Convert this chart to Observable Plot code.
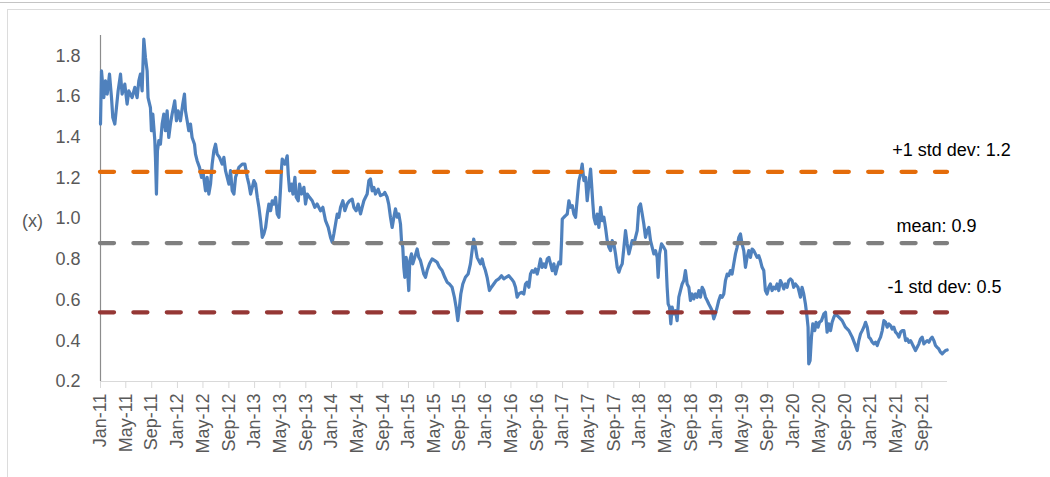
<!DOCTYPE html>
<html>
<head>
<meta charset="utf-8">
<script src="https://cdn.jsdelivr.net/npm/d3@7"></script>
<script src="https://cdn.jsdelivr.net/npm/@observablehq/plot@0.6"></script>
<style>
  html, body { margin: 0; padding: 0; background: #fff; }
  #wrap { position: relative; width: 1050px; height: 477px; overflow: hidden; background: #fff; }
  #wrap svg { position: absolute; left: 0; top: 0; }
  .line-top { position: absolute; left: 0; top: 2px; width: 1050px; border-top: 1px solid #c4c4c4; }
  .box { position: absolute; left: 7px; top: 9px; width: 1100px; height: 520px; border-left: 1px solid #dcdcdc; border-top: 1px solid #dcdcdc; }
</style>
</head>
<body>
<div id="wrap"></div>
<script>
// ---- data (decimal year, multiple) ----
const s2011_2012 = [
[2011.000,1.465],[2011.013,1.726],[2011.043,1.595],[2011.065,1.677],[2011.087,1.612],[2011.117,1.710],[2011.143,1.595],[2011.160,1.497],[2011.186,1.465],[2011.203,1.530],
[2011.229,1.628],[2011.260,1.710],[2011.281,1.612],[2011.316,1.661],[2011.346,1.563],[2011.368,1.628],[2011.411,1.595],[2011.446,1.645],[2011.476,1.595],[2011.498,1.677],
[2011.519,1.710],[2011.541,1.628],[2011.563,1.882],[2011.584,1.792],[2011.606,1.726],[2011.618,1.595],[2011.649,1.546],[2011.662,1.432],[2011.680,1.514],[2011.706,1.383],
[2011.714,1.301],[2011.727,1.121],[2011.740,1.334],[2011.758,1.383],[2011.779,1.366],[2011.801,1.465],[2011.823,1.514],[2011.844,1.432],[2011.866,1.530],[2011.887,1.399],
[2011.909,1.465],[2011.931,1.514],[2011.965,1.579],[2011.987,1.481],[2012.009,1.530],[2012.039,1.481],[2012.069,1.563],[2012.091,1.612],[2012.104,1.530],[2012.126,1.481],
[2012.147,1.432],[2012.169,1.465],[2012.190,1.399],[2012.221,1.366],[2012.234,1.317],[2012.255,1.285],[2012.286,1.252],[2012.312,1.203],[2012.329,1.236],[2012.364,1.137],
[2012.385,1.203],[2012.407,1.121],[2012.429,1.170],[2012.450,1.268],[2012.472,1.334],[2012.494,1.366],[2012.515,1.317],[2012.545,1.301],[2012.580,1.268],[2012.602,1.301],
[2012.623,1.236],[2012.645,1.203],[2012.667,1.170],[2012.688,1.236],[2012.710,1.137],[2012.732,1.121],[2012.753,1.203],[2012.796,1.252],[2012.840,1.268]
];
const s2013_2014 = [
[2012.874,1.268],[2012.905,1.203],[2012.926,1.170],[2012.948,1.121],[2012.970,1.154],[2012.991,1.187],[2013.013,1.170],[2013.035,1.105],[2013.056,1.056],[2013.078,0.990],
[2013.100,0.908],[2013.121,0.925],[2013.143,0.957],[2013.165,1.023],[2013.186,1.072],[2013.208,1.039],[2013.229,1.088],[2013.251,1.072],[2013.273,1.105],[2013.294,1.023],
[2013.316,1.007],[2013.338,1.154],[2013.351,1.252],[2013.359,1.293],[2013.394,1.268],[2013.424,1.309],[2013.437,1.219],[2013.455,1.137],[2013.481,1.170],[2013.498,1.121],
[2013.524,1.203],[2013.541,1.105],[2013.567,1.088],[2013.584,1.170],[2013.610,1.121],[2013.641,1.154],[2013.662,1.072],[2013.684,1.121],[2013.714,1.105],[2013.749,1.088],
[2013.783,1.056],[2013.813,1.072],[2013.857,1.039],[2013.887,1.056],[2013.922,0.990],[2013.957,0.957],[2013.987,0.908],[2014.009,0.884],[2014.030,0.925],[2014.052,0.974],
[2014.074,1.023],[2014.095,1.007],[2014.117,1.056],[2014.147,1.088],[2014.173,1.039],[2014.203,1.072],[2014.234,1.088],[2014.268,1.096],[2014.290,1.056],[2014.320,1.039],
[2014.346,1.072],[2014.377,1.023],[2014.398,1.056],[2014.420,1.088],[2014.442,1.105],[2014.463,1.121],[2014.485,1.187],[2014.506,1.195],[2014.528,1.137],[2014.550,1.154],
[2014.571,1.121],[2014.606,1.145],[2014.636,1.113],[2014.680,1.121]
];
const s2015_2016 = [
[2014.692,1.129],[2014.723,1.105],[2014.743,1.072],[2014.766,1.007],[2014.788,0.957],[2014.810,1.007],[2014.831,1.048],[2014.853,1.007],[2014.874,1.023],[2014.896,0.974],
[2014.909,0.892],[2014.926,0.859],[2014.939,0.761],[2014.952,0.712],[2014.970,0.810],[2014.987,0.745],[2015.004,0.647],[2015.017,0.794],[2015.039,0.827],[2015.056,0.778],
[2015.082,0.810],[2015.113,0.851],[2015.134,0.810],[2015.156,0.794],[2015.178,0.761],[2015.199,0.728],[2015.221,0.712],[2015.242,0.745],[2015.273,0.778],[2015.307,0.802],
[2015.342,0.794],[2015.372,0.786],[2015.403,0.761],[2015.437,0.745],[2015.472,0.712],[2015.502,0.688],[2015.532,0.679],[2015.567,0.663],[2015.597,0.614],[2015.619,0.565],
[2015.641,0.499],[2015.662,0.565],[2015.680,0.630],[2015.706,0.679],[2015.740,0.712],[2015.775,0.728],[2015.805,0.778],[2015.827,0.843],[2015.848,0.900],[2015.870,0.859],
[2015.892,0.810],[2015.913,0.794],[2015.935,0.778],[2015.957,0.802],[2015.978,0.769],[2016.000,0.745],[2016.022,0.712],[2016.052,0.647],[2016.078,0.663],[2016.108,0.679],
[2016.139,0.696],[2016.173,0.704],[2016.208,0.720],[2016.238,0.704],[2016.268,0.712],[2016.303,0.720],[2016.338,0.704],[2016.368,0.688],[2016.390,0.663],[2016.411,0.614],
[2016.433,0.630],[2016.468,0.638],[2016.498,0.630],
[2016.519,0.679],[2016.541,0.688],[2016.563,0.663],[2016.584,0.728],[2016.606,0.745],[2016.628,0.737],[2016.649,0.753],[2016.671,0.728],[2016.693,0.761],[2016.714,0.802],
[2016.736,0.761],[2016.758,0.778],[2016.779,0.761],[2016.801,0.802],[2016.823,0.810],[2016.844,0.778],[2016.866,0.745],[2016.887,0.778],[2016.909,0.728],[2016.931,0.761],
[2016.952,0.786],[2016.974,0.778]
];
const s2017_2018 = [
[2016.987,0.892],[2016.996,0.998],[2017.017,1.007],[2017.039,1.015],[2017.061,1.023],[2017.082,1.088],[2017.104,1.056],[2017.126,1.064],
[2017.147,1.023],[2017.169,1.007],[2017.190,1.096],[2017.212,1.187],[2017.234,1.219],[2017.255,1.268],[2017.277,1.187],[2017.299,1.203],[2017.320,1.088],[2017.342,1.170],
[2017.364,1.244],[2017.377,1.170],[2017.394,1.072],[2017.407,1.007],[2017.429,0.974],[2017.450,1.023],[2017.472,0.957],[2017.494,1.056],[2017.515,0.990],[2017.537,1.007],
[2017.558,0.957],[2017.580,0.892],[2017.602,0.859],[2017.623,0.843],[2017.645,0.892],[2017.667,0.876],[2017.688,0.827],[2017.710,0.761],[2017.732,0.737],[2017.753,0.761],
[2017.775,0.778],[2017.797,0.859],[2017.818,0.941],[2017.840,0.876],[2017.862,0.827],[2017.883,0.859],[2017.905,0.892],[2017.926,0.876],[2017.948,0.908],[2017.970,0.941],
[2017.991,1.056],[2018.013,1.072],[2018.035,1.023],[2018.056,0.974],[2018.078,0.908],[2018.100,0.941],[2018.121,0.957],[2018.143,0.892],[2018.165,0.859],[2018.186,0.827],
[2018.208,0.843],[2018.229,0.810],[2018.242,0.712],[2018.260,0.827],[2018.286,0.876],[2018.316,0.859],
[2018.338,0.843],[2018.359,0.663],[2018.372,0.581],[2018.390,0.565],[2018.407,0.483],[2018.424,0.565],[2018.446,0.532],[2018.468,0.548],[2018.489,0.499],[2018.511,0.614],
[2018.532,0.647],[2018.554,0.679],[2018.576,0.696],[2018.597,0.745],[2018.619,0.679],[2018.641,0.663],[2018.662,0.598],[2018.684,0.630],[2018.706,0.606],[2018.727,0.630],
[2018.749,0.614],[2018.771,0.647],[2018.792,0.614],[2018.814,0.663],[2018.836,0.647],[2018.857,0.614],[2018.879,0.598],[2018.900,0.581],[2018.922,0.565],[2018.944,0.548],
[2018.965,0.508],[2018.987,0.532]
];
const s2019_2021 = [
[2019.009,0.565],[2019.030,0.598],[2019.052,0.622],[2019.074,0.614],[2019.095,0.630],[2019.117,0.696],[2019.139,0.728],[2019.160,0.720],
[2019.182,0.745],[2019.203,0.728],[2019.225,0.778],[2019.247,0.827],[2019.268,0.859],[2019.290,0.908],[2019.312,0.925],[2019.333,0.876],[2019.355,0.843],[2019.377,0.761],
[2019.398,0.810],[2019.420,0.843],[2019.442,0.810],[2019.463,0.851],[2019.485,0.843],[2019.506,0.827],[2019.528,0.810],[2019.550,0.818],[2019.571,0.794],[2019.593,0.761],
[2019.615,0.745],[2019.636,0.647],[2019.658,0.630],[2019.680,0.663],[2019.701,0.679],[2019.723,0.647],[2019.745,0.663],[2019.766,0.655],[2019.788,0.679],[2019.810,0.647],
[2019.831,0.696],[2019.853,0.679],[2019.875,0.655],[2019.896,0.679],[2019.918,0.663],[2019.939,0.696],[2019.961,0.704],[2019.983,0.696],[2020.004,0.663],[2020.026,0.679],
[2020.060,0.663],[2020.091,0.614],[2020.112,0.663],[2020.134,0.630],[2020.156,0.581],[2020.177,0.516],[2020.190,0.467],[2020.199,0.287],[2020.216,0.303],[2020.234,0.418],
[2020.251,0.483],[2020.277,0.450],[2020.294,0.491],[2020.320,0.467],[2020.338,0.491],[2020.364,0.499],[2020.394,0.532],[2020.416,0.540],[2020.437,0.442],[2020.459,0.483],
[2020.481,0.450],[2020.502,0.491],[2020.524,0.516],[2020.545,0.532],[2020.567,0.524],[2020.589,0.516],[2020.632,0.499],[2020.675,0.467],[2020.719,0.450],[2020.762,0.418],
[2020.796,0.385],[2020.827,0.352],[2020.848,0.401],[2020.870,0.434],[2020.892,0.450],[2020.913,0.467],[2020.935,0.491],[2020.957,0.467],[2020.978,0.418],[2021.000,0.409],
[2021.022,0.393],[2021.043,0.385],[2021.065,0.393],[2021.087,0.377],[2021.108,0.401],[2021.130,0.418],[2021.152,0.450],[2021.173,0.499],[2021.195,0.491],[2021.216,0.467],
[2021.238,0.483],[2021.260,0.475],[2021.281,0.458],[2021.303,0.467],[2021.325,0.442],[2021.346,0.434],[2021.368,0.418],[2021.390,0.442],[2021.411,0.450],[2021.433,0.450],
[2021.455,0.401],[2021.477,0.409],[2021.498,0.393],[2021.519,0.401],[2021.541,0.385],[2021.563,0.368],[2021.584,0.352],[2021.606,0.368],[2021.628,0.385],[2021.649,0.409],
[2021.671,0.418],[2021.693,0.385],[2021.714,0.393],[2021.736,0.401],[2021.758,0.393],[2021.779,0.409],[2021.801,0.418],[2021.823,0.401],[2021.844,0.377],[2021.866,0.368],
[2021.887,0.360],[2021.909,0.344],[2021.931,0.336],[2021.952,0.344],[2021.974,0.352],[2021.996,0.355]
];

const refValues = [1.23, 0.88, 0.54];
const refLabels = ["+1 std dev: 1.2", "mean: 0.9", "-1 std dev: 0.5"];
const yTicks = [0.2, 0.4, 0.6, 0.8, 1.0, 1.2, 1.4, 1.6, 1.8];
const yDomain = [0.2, 1.9];
const xDomain = ["2011-01-01", "2022-01-01"];
const yAxisLabel = "(x)";

// ---- styling ----
const lineColor = "#4f81bd";
const refColors = ["#e46c0a", "#7f7f7f", "#953735"];
const refDx = [4, -11, -3];
const refDy = [-22, -17, -25];

function yearToDate(y) {
  const yr = Math.floor(y);
  const a = Date.UTC(yr, 0, 1), b = Date.UTC(yr + 1, 0, 1);
  return new Date(a + (y - yr) * (b - a));
}
const series = [...s2011_2012, ...s2013_2014, ...s2015_2016, ...s2017_2018, ...s2019_2021]
  .map(([t, v]) => ({date: yearToDate(t), value: v}));
const refs = refValues.map((v, i) => ({value: v, label: refLabels[i]}));
const xd = xDomain.map(s => new Date(s + "T00:00:00Z"));
const xTicks = d3.utcMonth.every(4).range(xd[0], xd[1]);

const chart = Plot.plot({
  width: 1050,
  height: 477,
  marginLeft: 100,
  marginRight: 103,
  marginTop: 35,
  marginBottom: 96,
  style: {fontFamily: "'Liberation Sans', Arial, sans-serif", fontSize: "18px", background: "transparent"},
  x: {type: "utc", domain: xd, label: null},
  y: {domain: yDomain, label: null},
  marks: [
    Plot.ruleY([yDomain[0]], {stroke: "#d9d9d9", strokeWidth: 1.2}),
    Plot.ruleX([xd[0]], {stroke: "#8c8c8c", strokeWidth: 1.2}),
    Plot.axisX({
      ticks: xTicks,
      tickFormat: d3.utcFormat("%b-%y"),
      tickRotate: -90,
      tickSize: 7,
      tickPadding: 5,
      stroke: "#d9d9d9",
      fill: "#595959",
      fontSize: 18,
      label: null
    }),
    Plot.axisY({
      ticks: yTicks,
      tickFormat: d3.format(".1f"),
      tickSize: 0,
      tickPadding: 20,
      fill: "#595959",
      fontSize: 18,
      label: null
    }),
    Plot.text([yAxisLabel], {text: d => d, frameAnchor: "left", textAnchor: "middle", dx: -68, dy: 13, fill: "#595959", fontSize: 18}),
    Plot.line(series, {x: "date", y: "value", stroke: lineColor, strokeWidth: 3.2, strokeLinejoin: "round"}),
    ...refs.map((r, i) => Plot.ruleY([r], {y: "value", stroke: refColors[i], strokeWidth: 4.3, strokeDasharray: "14,19.4", strokeLinecap: "round"})),
    ...refs.map((r, i) => Plot.text([r], {y: "value", text: "label", frameAnchor: "right", textAnchor: "middle", dx: refDx[i], dy: refDy[i], fill: "#000", fontSize: 18}))
  ]
});

const wrap = document.getElementById("wrap");
wrap.appendChild(chart);
const l1 = document.createElement("div"); l1.className = "line-top"; wrap.appendChild(l1);
const l2 = document.createElement("div"); l2.className = "box"; wrap.appendChild(l2);
</script>
</body>
</html>
